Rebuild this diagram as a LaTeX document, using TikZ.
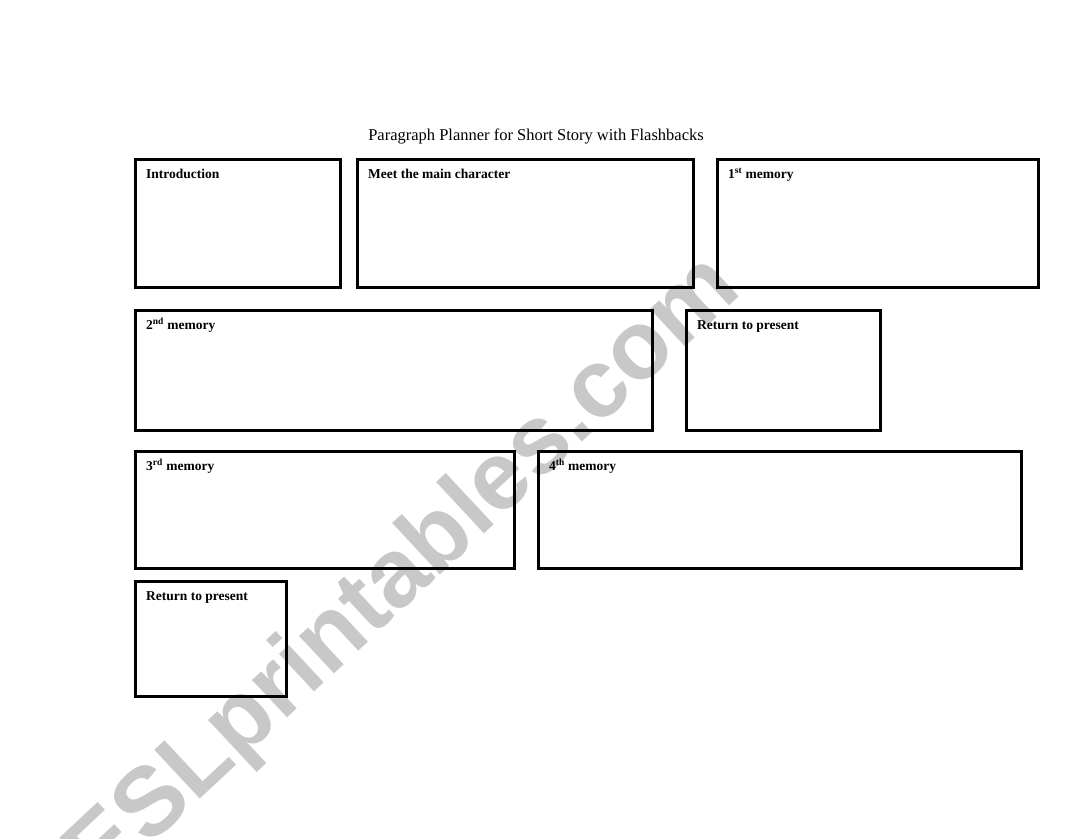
\documentclass[tikz,border=0pt]{standalone}
\usepackage{fontspec}
\setmainfont{Liberation Serif}
\newfontfamily\wmfont{Liberation Sans}
\usetikzlibrary{positioning}
\definecolor{wmgray}{RGB}{200,200,200}
\begin{document}
\begin{tikzpicture}[x=1pt, y=-1pt,
  plan/.style={draw, line width=3pt, rectangle, inner sep=0pt, outer sep=0pt, anchor=north west},
  lbl/.style={font=\fontsize{13.5}{16}\selectfont\bfseries, inner sep=0pt, anchor=base west}]
\useasboundingbox (0,0) rectangle (1086,838);
% watermark
\node[font=\wmfont\fontsize{97}{110}\selectfont\bfseries, text=wmgray, rotate=43, anchor=base] (mark) at (422,592) {ESLprintables.com};
\node[font=\fontsize{16.5}{20}\selectfont, anchor=base] (title) at (536,140) {Paragraph Planner for Short Story with Flashbacks};
% row one
\node[plan, minimum width=205, minimum height=128] (intro) at (135.5,159.5) {};
\node[plan, minimum width=336, minimum height=128] (meet) at (357.5,159.5) {};
\node[plan, minimum width=321, minimum height=128] (first) at (717.5,159.5) {};
% row two
\node[plan, minimum width=517, minimum height=120] (second) at (135.5,310.5) {};
\node[plan, minimum width=194, minimum height=120] (backone) at (686.5,310.5) {};
% row three
\node[plan, minimum width=379, minimum height=117] (third) at (135.5,451.5) {};
\node[plan, minimum width=483, minimum height=117] (fourth) at (538.5,451.5) {};
% row four
\node[plan, minimum width=151, minimum height=115] (backtwo) at (135.5,581.5) {};
% labels
\node[lbl] (introlbl) at ([shift={(10.5,19)}]intro.north west) {Introduction};
\node[lbl] (meetlbl) at ([shift={(10.5,19)}]meet.north west) {Meet the main character};
\node[lbl] (firstlbl) at ([shift={(10.5,19)}]first.north west) {1\textsuperscript{st} memory};
\node[lbl] (secondlbl) at ([shift={(10.5,19)}]second.north west) {2\textsuperscript{nd} memory};
\node[lbl] (backonelbl) at ([shift={(10.5,19)}]backone.north west) {Return to present};
\node[lbl] (thirdlbl) at ([shift={(10.5,19)}]third.north west) {3\textsuperscript{rd} memory};
\node[lbl] (fourthlbl) at ([shift={(10.5,19)}]fourth.north west) {4\textsuperscript{th} memory};
\node[lbl] (backtwolbl) at ([shift={(10.5,19)}]backtwo.north west) {Return to present};
\end{tikzpicture}
\end{document}
